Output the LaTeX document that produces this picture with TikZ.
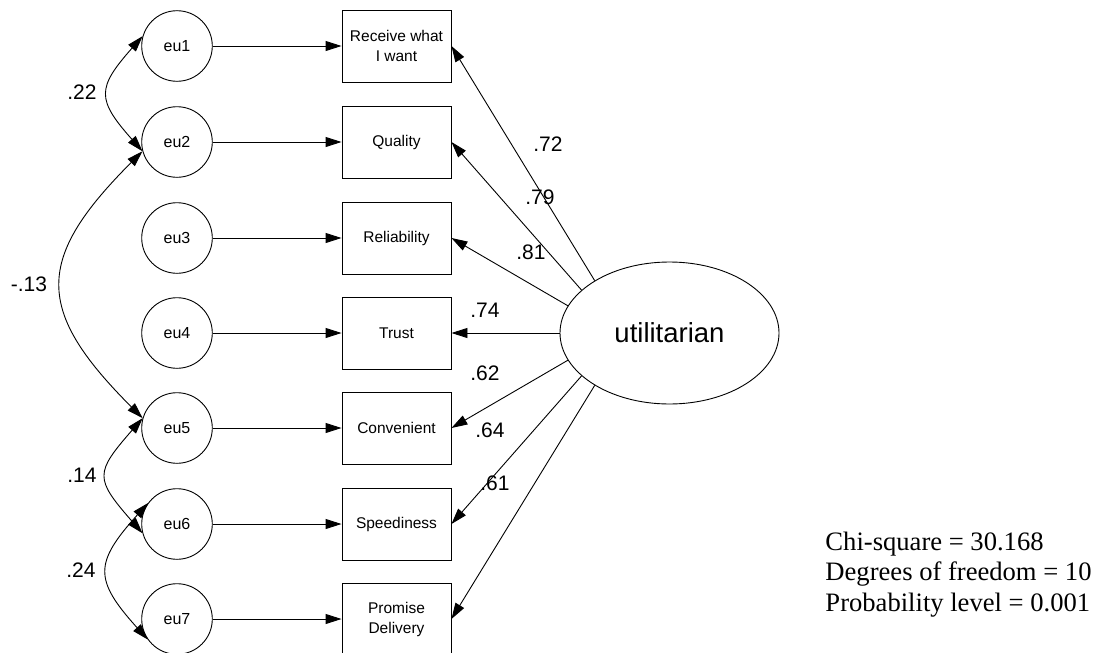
\documentclass[tikz,border=0pt]{standalone}
\usepackage{fontspec}
\newfontfamily\arialfont{Liberation Sans}
\newfontfamily\timesfont{Liberation Serif}
\usetikzlibrary{arrows.meta,shapes.geometric}
\begin{document}
\begin{tikzpicture}[x=1pt,y=-1pt,line width=0.9pt,
  err/.style={circle,draw,minimum size=70.6pt,inner sep=0pt,
    font=\arialfont\fontsize{16}{20}\selectfont},
  obs/.style={rectangle,draw,minimum width=109pt,minimum height=72pt,inner sep=0pt,
    align=center,font=\arialfont\fontsize{15.5}{20}\selectfont},
  lat/.style={ellipse,draw,minimum width=219pt,minimum height=142pt,inner sep=0pt,
    font=\arialfont\fontsize{27.5}{30}\selectfont},
  load/.style={-{Triangle[length=16pt,width=10pt]}},
  cov/.style={{Triangle[length=16pt,width=10pt]}-{Triangle[length=16pt,width=10pt]}},
  coef/.style={font=\arialfont\fontsize{21}{24}\selectfont,inner sep=0pt},
  fitstat/.style={font=\timesfont\fontsize{26.6}{30.5}\selectfont,inner sep=0pt,anchor=base west}
]
\useasboundingbox (0,0) rectangle (1100,653);

% error terms
\node[err] (eu1) at (177,46)  {eu1};
\node[err] (eu2) at (177,142) {eu2};
\node[err] (eu3) at (177,238) {eu3};
\node[err] (eu4) at (177,333) {eu4};
\node[err] (eu5) at (177,428) {eu5};
\node[err] (eu6) at (177,524) {eu6};
\node[err] (eu7) at (177,619) {eu7};

% observed indicators
\node[obs] (b1) at (396.5,46)  {Receive what\\I want};
\node[obs] (b2) at (396.5,142) {Quality};
\node[obs] (b3) at (396.5,238) {Reliability};
\node[obs] (b4) at (396.5,333) {Trust};
\node[obs] (b5) at (396.5,428) {Convenient};
\node[obs] (b6) at (396.5,524) {Speediness};
\node[obs] (b7) at (396.5,619) {Promise\\Delivery};

% latent factor
\node[lat] (ut) at (669.5,333) {utilitarian};

% error paths
\foreach \i in {1,...,7} \draw[load] (eu\i) -- (b\i);

% factor loadings
\draw[load] (ut.145) -- (b1.east);
\draw[load] (ut.154) -- (b2.east);
\draw[load] (ut.165) -- (b3.east);
\draw[load] (ut.west) -- (b4.east);
\draw[load] (ut.195) -- (b5.east);
\draw[load] (ut.206) -- (b6.east);
\draw[load] (ut.215) -- (b7.east);

\node[coef] (l1) at (548,144) {.72};
\node[coef] (l2) at (540,197) {.79};
\node[coef] (l3) at (531,252) {.81};
\node[coef] (l4) at (485,310.5) {.74};
\node[coef] (l5) at (485,373) {.62};
\node[coef] (l6) at (490,430) {.64};
\node[coef] (l7) at (495,483) {.61};

% error covariances
\draw[cov] (eu1.164) .. controls +(-46,52) and +(-46,-52) .. (eu2.195);
\draw[cov] (eu2.195) .. controls +(-108,108) and +(-108,-108) .. (eu5.164);
\draw[cov] (eu5.164) .. controls +(-48,55) and +(-48,-55) .. (eu6.195);
\draw[cov] (eu6.144) .. controls +(-54,60) and +(-54,-60) .. (eu7.215);

\node[coef] (c12) at (82,92.5) {.22};
\node[coef] (c25) at (29,284) {-.13};
\node[coef] (c56) at (82,475) {.14};
\node[coef] (c67) at (81,570) {.24};

% fit statistics
\node[fitstat] (chi) at (825,550) {Chi-square = 30.168};
\node[fitstat] (dfr) at (825,580.5) {Degrees of freedom = 10};
\node[fitstat] (prb) at (825,611) {Probability level = 0.001};
\end{tikzpicture}
\end{document}
